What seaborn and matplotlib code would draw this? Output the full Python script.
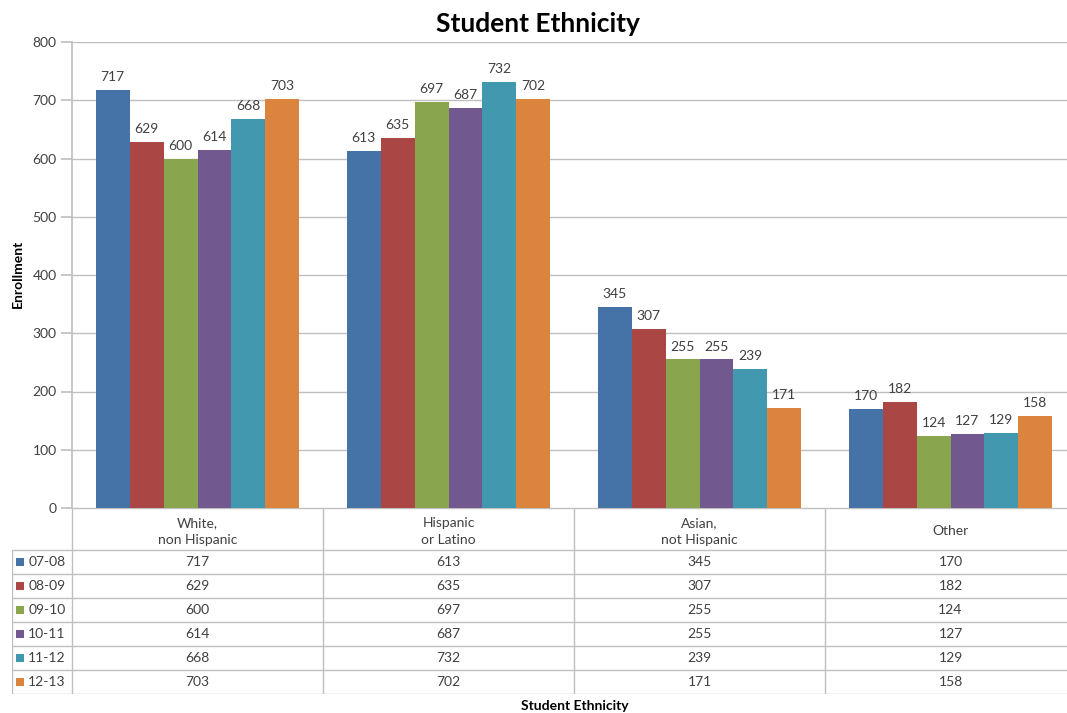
import numpy as np
import pandas as pd
import matplotlib
matplotlib.use("Agg")
import matplotlib.pyplot as plt
import seaborn as sns

# ---------------- data ----------------
categories = ["White,\nnon Hispanic", "Hispanic\nor Latino", "Asian,\nnot Hispanic", "Other"]
years = ["07-08", "08-09", "09-10", "10-11", "11-12", "12-13"]
y_07_08 = [717, 613, 345, 170]
y_08_09 = [629, 635, 307, 182]
y_09_10 = [600, 697, 255, 124]
y_10_11 = [614, 687, 255, 127]
y_11_12 = [668, 732, 239, 129]
y_12_13 = [703, 702, 171, 158]
series = [y_07_08, y_08_09, y_09_10, y_10_11, y_11_12, y_12_13]

colors = ["#4572A7", "#AA4643", "#89A54E", "#71588F", "#4198AF", "#DB843D"]

rows = []
for yr, vals in zip(years, series):
    for cat, v in zip(categories, vals):
        rows.append({"Ethnicity": cat, "Year": yr, "Enrollment": v})
df = pd.DataFrame(rows)

# ---------------- style ----------------
sns.set_theme(style="white")
plt.rcParams["font.family"] = ["Lato", "DejaVu Sans"]
GRID = "#C0C0C0"
TXT = "#404040"

W, H = 1067, 713
fig = plt.figure(figsize=(W / 100, H / 100), dpi=100)

def frac(x0, y0, x1, y1):
    # pixel box -> figure fraction
    return [x0 / W, 1 - y1 / H, (x1 - x0) / W, (y1 - y0) / H]

cat_w = 251
ax = fig.add_axes(frac(72, 42, 72 + 4 * cat_w, 508))

sns.barplot(data=df, x="Ethnicity", y="Enrollment", hue="Year",
            order=categories, hue_order=years, palette=colors,
            width=0.81, gap=0, saturation=1, edgecolor="none",
            legend=False, ax=ax)

for cont in ax.containers:
    ax.bar_label(cont, padding=5, fontsize=10, color=TXT)

ax.set_xlim(-0.5, 3.5)
ax.set_ylim(0, 800)
ax.set_yticks(range(0, 801, 100))
ax.yaxis.grid(True, color=GRID, linewidth=1)
ax.set_axisbelow(True)
ax.set_xticks([])
ax.set_xlabel("")
ax.set_ylabel("")
for s in ["top", "right", "bottom"]:
    ax.spines[s].set_visible(False)
ax.spines["left"].set_color(GRID)
ax.tick_params(axis="y", length=8, color=GRID, labelsize=10, labelcolor=TXT, pad=3, left=True)

# ---------------- data table ----------------
leg_w = 60 / cat_w
hdr = 42 / 24
axt = fig.add_axes(frac(12, 508, 72 + 4 * cat_w, 694))
axt.set_xlim(-0.5 - leg_w, 3.5)
axt.set_ylim(hdr + len(years), 0)
axt.axis("off")

# grid lines of the table
axt.plot([-0.5, 3.5], [0, 0], color=GRID, lw=1)
for i in range(len(years) + 1):
    axt.plot([-0.5 - leg_w, 3.5], [hdr + i, hdr + i], color=GRID, lw=1)
axt.plot([-0.5, -0.5], [0, hdr + len(years)], color=GRID, lw=1)
axt.plot([-0.5 - leg_w, -0.5 - leg_w], [hdr, hdr + len(years)], color=GRID, lw=1)
for k in range(1, 4):
    axt.plot([k - 0.5, k - 0.5], [0, hdr + len(years)], color=GRID, lw=1)

for j, cat in enumerate(categories):
    axt.text(j, hdr / 2 + 0.1, cat, ha="center", va="center", fontsize=10,
             color=TXT, linespacing=1.45)

for i, (yr, vals, c) in enumerate(zip(years, series, colors)):
    yc = hdr + i + 0.5
    axt.scatter([-0.5 - leg_w + 0.03], [yc], marker="s", s=36, color=c, linewidths=0)
    axt.text(-0.5 - leg_w + 0.065, yc, yr, ha="left", va="center", fontsize=10, color=TXT)
    for j, v in enumerate(vals):
        axt.text(j, yc, str(v), ha="center", va="center", fontsize=10, color=TXT)

# ---------------- titles ----------------
fig.text(538 / W, 1 - 24 / H, "Student Ethnicity", ha="center", va="center",
         fontsize=19, fontweight="bold", color="black")
fig.text(575 / W, 1 - 700 / H, "Student Ethnicity", ha="center", va="top",
         fontsize=10, fontweight="bold", color="black")
fig.text(18 / W, 1 - 274 / H, "Enrollment", ha="center", va="center",
         rotation=90, fontsize=10, fontweight="bold", color="black")

fig.savefig("out.png", dpi=100)
